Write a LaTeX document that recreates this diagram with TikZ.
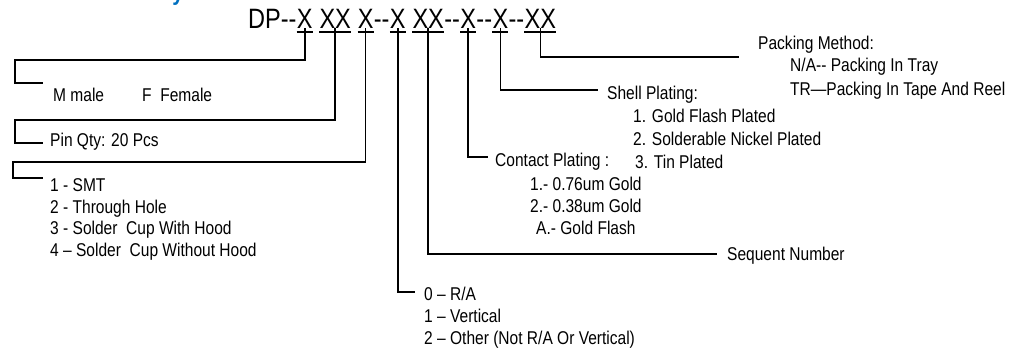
\documentclass[tikz,border=0pt]{standalone}
\usepackage{fontspec}
\setmainfont{Liberation Sans}[FakeStretch=0.84]
\usepackage{xcolor}
\usepackage{tikz}
\usetikzlibrary{positioning,calc}
\definecolor{tBlue}{HTML}{0070C0}
\newcommand{\dbl}{-\kern0pt-}
\tikzset{
  code/.style={inner sep=0pt, font=\fontsize{28}{30}\selectfont},
  uline/.style={line width=2.6pt},
  lead/.style={line width=1.5pt},
  optxt/.style={inner sep=0pt, anchor=base west, font=\fontsize{18.5}{22}\selectfont},
}
% one underlined group of the part number
\newcommand{\grp}[4]{%
  \node[code, base right=#3 of #2] (#1) {#4};%
  \draw[uline] ([yshift=-4pt]#1.base west) -- ([yshift=-4pt]#1.base east);}
\newcommand{\optline}[4]{\node[optxt] (#3) at (#1,#2) {#4};}

\begin{document}
\begin{tikzpicture}[x=1pt, y=-1pt]
\useasboundingbox (0,0) rectangle (1022,349);
\node[text=tBlue, font=\bfseries\fontsize{24}{26}\selectfont, anchor=base, inner sep=0pt] (ttl) at (178,0) {y};

% part number
\node[code, anchor=base west] (dp) at (248,28) {DP\dbl};
\grp{g1}{dp}{0pt}{X}
\grp{g2}{g1}{6.5pt}{XX}
\grp{g3}{g2}{6.5pt}{X}
\node[code, base right=0pt of g3] (h3) {\dbl};
\grp{g4}{h3}{0pt}{X}
\grp{g5}{g4}{6.5pt}{XX}
\node[code, base right=0pt of g5] (h5) {\dbl};
\grp{g6}{h5}{0pt}{X}
\node[code, base right=0pt of g6] (h6) {\dbl};
\grp{g7}{h6}{0pt}{X}
\node[code, base right=0pt of g7] (h7) {\dbl};
\grp{g8}{h7}{0pt}{XX}

% left side leaders
\coordinate (k1) at (15,60);  \coordinate (m1) at (43,83);
\coordinate (k2) at (15,120); \coordinate (m2) at (43,143);
\coordinate (k3) at (13,162); \coordinate (m3) at (43,178);
\draw[lead] (g1.south) |- (k1) |- (m1);
\draw[lead] (g2.south) |- (k2) |- (m2);
\draw[lead] (g3.south) |- (k3) |- (m3);

% right side leaders
\coordinate (e8) at (739,57);
\coordinate (e7) at (598,90);
\coordinate (e6) at (488,157);
\coordinate (e5) at (717,254);
\coordinate (e4) at (415,292);
\draw[lead] (g8.south) |- (e8);
\draw[lead] (g7.south) |- (e7);
\draw[lead] (g6.south) |- (e6);
\draw[lead] (g5.south) |- (e5);
\draw[lead] (g4.south) |- (e4);

% gender
\optline{53}{101}{tM}{M male}
\optline{142}{101}{tF}{F\ \ Female}
% pins
\optline{50}{146}{tpin}{Pin Qty: 20 Pcs}
% termination
\optline{50}{191}{tt1}{1 - SMT}
\optline{50}{213}{tt2}{2 - Through Hole}
\optline{50}{234}{tt3}{3 - Solder\ \ Cup With Hood}
\optline{50}{256}{tt4}{4 – Solder\ \ Cup Without Hood}
% packing
\optline{758}{49}{tpack}{Packing Method:}
\optline{790}{71}{tpk1}{N/A\dbl{} Packing In Tray}
\optline{790}{95}{tpk2}{TR—Packing In Tape And Reel}
% shell plating
\optline{607}{99}{tshell}{Shell Plating:}
\optline{633}{122}{ts1}{1. Gold Flash Plated}
\optline{633}{145}{ts2}{2. Solderable Nickel Plated}
\optline{635}{168}{ts3}{3. Tin Plated}
% contact plating
\optline{495}{166}{tcont}{Contact Plating :}
\optline{530}{190}{tc1}{1.- 0.76um Gold}
\optline{530}{212}{tc2}{2.- 0.38um Gold}
\optline{536}{234}{tc3}{A.- Gold Flash}
% sequence
\optline{727}{260}{tseq}{Sequent Number}
% orientation
\optline{424}{300}{to1}{0 – R/A}
\optline{424}{322}{to2}{1 – Vertical}
\optline{424}{344}{to3}{2 – Other (Not R/A Or Vertical)}
\end{tikzpicture}
\end{document}
